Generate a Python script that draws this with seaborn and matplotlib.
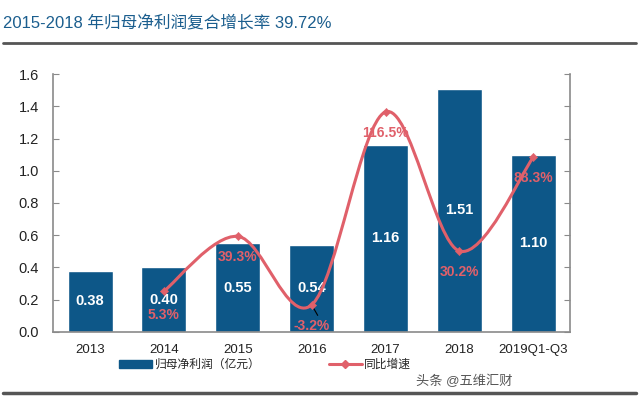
import matplotlib
matplotlib.use('Agg')
import matplotlib.pyplot as plt
import numpy as np
import seaborn as sns
from matplotlib.path import Path
from matplotlib.patches import PathPatch, Patch
from matplotlib.lines import Line2D

# 数据
years = ['2013', '2014', '2015', '2016', '2017', '2018', '2019Q1-Q3']
profit = [0.38, 0.40, 0.55, 0.54, 1.16, 1.51, 1.10]
growth_years = ['2014', '2015', '2016', '2017', '2018', '2019Q1-Q3']
growth = [5.3, 39.3, -3.2, 116.5, 30.2, 88.3]

title = '2015-2018 年归母净利润复合增长率 39.72%'
bar_name = '归母净利润（亿元）'
line_name = '同比增速'

BLUE = '#0D5788'
RED = '#E0606A'
GRAY = '#8A8A8A'

sns.set_style('white')
plt.rcParams['font.family'] = ['Liberation Sans', 'Noto Sans CJK SC', 'DejaVu Sans']

fig = plt.figure(figsize=(6.4, 3.99), dpi=100)
ax = fig.add_axes([0.083, 0.168, 0.808, 0.6465])

sns.barplot(x=years, y=profit, color=BLUE, width=0.61, saturation=1, ax=ax)
ax.set_xlim(-0.5, 6.5)
ax.set_ylim(0, 1.6)
ax.set_yticks(np.arange(0, 1.61, 0.2))
ax.set_yticklabels([f'{v:.1f}' for v in np.arange(0, 1.61, 0.2)])
ax.set_xticks(np.arange(-0.5, 6.6, 1), minor=True)
ax.tick_params(axis='x', which='major', length=0, pad=9, labelsize=9.5, labelcolor='#222222')
ax.tick_params(axis='x', which='minor', direction='in', length=4, color=GRAY)
ax.tick_params(axis='y', direction='in', length=4, color=GRAY, labelsize=10.5,
               labelcolor='#222222', pad=10)
ax.set_xlabel('')
ax.set_ylabel('')
for s in ['left', 'bottom']:
    ax.spines[s].set_color(GRAY)
    ax.spines[s].set_linewidth(1.2)
ax.spines['top'].set_visible(False)
ax.spines['right'].set_visible(False)

for i, v in enumerate(profit):
    ax.text(i, v / 2, f'{v:.2f}', ha='center', va='center', color='white',
            fontsize=10.5, fontweight='bold')

# 同比增速 (右轴)
ax2 = ax.twinx()
gx = np.array([years.index(y) for y in growth_years], dtype=float)
gy = np.array(growth)
ax2.set_ylim(-20, 140)
ax2.set_yticks(np.arange(-20, 141, 20))
ax2.set_yticklabels([])
ax2.tick_params(axis='y', direction='in', length=4, color=GRAY)
ax2.spines['right'].set_color(GRAY)
ax2.spines['right'].set_linewidth(1.2)
for s in ['left', 'top', 'bottom']:
    ax2.spines[s].set_visible(False)

# 平滑曲线 (Catmull-Rom -> Bezier)
P = np.column_stack([gx, gy])
Pe = np.vstack([P[0], P, P[-1]])
verts = [tuple(P[0])]
codes = [Path.MOVETO]
for i in range(len(P) - 1):
    p0, p1, p2, p3 = Pe[i], Pe[i + 1], Pe[i + 2], Pe[i + 3]
    c1 = p1 + (p2 - p0) / 6
    c2 = p2 - (p3 - p1) / 6
    verts += [tuple(c1), tuple(c2), tuple(p2)]
    codes += [Path.CURVE4] * 3
ax2.add_patch(PathPatch(Path(verts, codes), facecolor='none', edgecolor=RED, lw=2.2))
sns.scatterplot(x=gx, y=gy, marker='D', s=18, color=RED, edgecolor=RED, ax=ax2, zorder=5)
ax2.set_xlim(-0.5, 6.5)

for k, (x, v) in enumerate(zip(gx, gy)):
    dy = -17 if k == 0 else -15
    ax2.annotate(f'{v:.1f}%', (x, v), xytext=(0, dy), textcoords='offset points',
                 ha='center', va='center', color=RED, fontsize=10, fontweight='bold')
ax2.annotate('', xy=(gx[2], gy[2]), xytext=(gx[2] + 0.1, gy[2] - 8),
             arrowprops=dict(arrowstyle='-', color='black', lw=0.8))

# 图例
handles = [Patch(facecolor=BLUE, edgecolor=BLUE),
           Line2D([0], [0], color=RED, lw=2.2, marker='D', markersize=4)]
fig.legend(handles, [bar_name, line_name], loc='center', ncol=2, frameon=False,
           bbox_to_anchor=(265 / 640, 1 - 365 / 399), fontsize=8.5,
           handlelength=2.8, handleheight=0.6, handletextpad=0.2, columnspacing=5.8)

# 标题与分隔线
fig.text(0.004, 1 - 23 / 399, title, ha='left', va='center', color='#1B5E8E', fontsize=12)
fig.add_artist(Line2D([0.004, 0.994], [1 - 43 / 399] * 2, color='#555555', lw=2))
fig.add_artist(Line2D([0.004, 0.994], [1 - 393 / 399] * 2, color='#555555', lw=2.5))
fig.text(512 / 640, 1 - 381 / 399, '头条 @五维汇财', ha='right', va='center',
         color='#555555', fontsize=9.5)

fig.savefig('out.png', dpi=100)
